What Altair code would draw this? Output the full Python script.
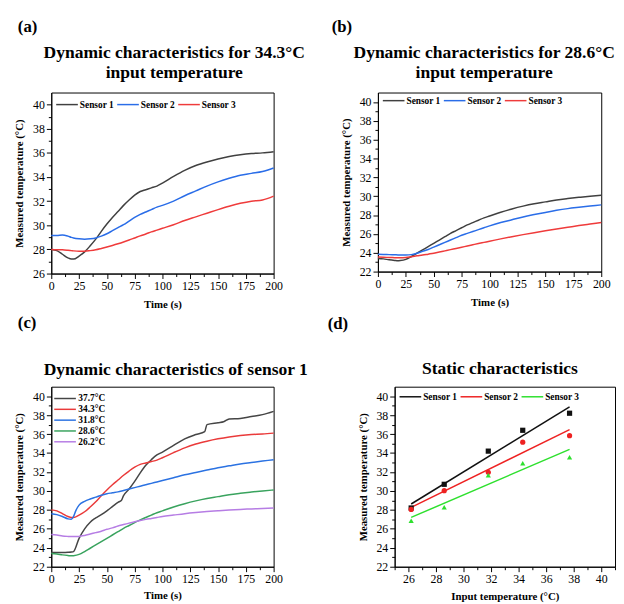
import altair as alt
import pandas as pd

FONT = "Liberation Serif"

# ---------------- data ----------------
PANEL_LABELS = ["(a)", "(b)", "(c)", "(d)"]
TITLE_A = ["Dynamic characteristics for 34.3°C", "input temperature"]
TITLE_B = ["Dynamic characteristics for 28.6°C", "input temperature"]
TITLE_C = ["Dynamic characteristics of sensor 1"]
TITLE_D = ["Static characteristics"]

SENSORS = ["Sensor 1", "Sensor 2", "Sensor 3"]

T_STD = [0, 5, 10, 15, 18, 20, 25, 30, 35, 40, 45, 50, 55, 60, 65, 70, 75, 80,
         85, 90, 95, 100, 110, 120, 130, 140, 150, 160, 170, 180, 190, 200]

# (a) 34.3 °C input
A_S1 = [28.0, 27.9, 27.6, 27.3, 27.2, 27.2, 27.45, 27.8, 28.3, 28.85, 29.5, 30.1,
        30.65, 31.15, 31.65, 32.1, 32.5, 32.8, 32.95, 33.1, 33.25, 33.5, 34.05,
        34.55, 34.95, 35.25, 35.5, 35.7, 35.85, 35.95, 36.0, 36.1]
A_S2 = [29.15, 29.15, 29.2, 29.1, 29.0, 28.95, 28.88, 28.85, 28.88, 28.95, 29.1,
        29.3, 29.55, 29.8, 30.05, 30.35, 30.65, 30.9, 31.1, 31.3, 31.5, 31.65,
        32.0, 32.45, 32.85, 33.25, 33.6, 33.9, 34.15, 34.3, 34.45, 34.75]
A_S3 = [28.0, 27.98, 27.97, 27.93, 27.9, 27.88, 27.85, 27.85, 27.9, 27.97, 28.08,
        28.2, 28.33, 28.47, 28.62, 28.78, 28.95, 29.12, 29.28, 29.45, 29.6, 29.75,
        30.05, 30.4, 30.7, 31.0, 31.3, 31.58, 31.82, 32.0, 32.1, 32.42]

# (b) 28.6 °C input
B_S1 = [23.4, 23.35, 23.25, 23.18, 23.15, 23.17, 23.3, 23.6, 23.95, 24.3, 24.65,
        25.0, 25.35, 25.7, 26.05, 26.35, 26.65, 26.95, 27.2, 27.45, 27.7, 27.9,
        28.3, 28.65, 28.95, 29.2, 29.4, 29.6, 29.75, 29.88, 30.0, 30.1]
B_S2 = [23.85, 23.82, 23.8, 23.78, 23.77, 23.76, 23.76, 23.8, 23.95, 24.15, 24.35,
        24.6, 24.85, 25.1, 25.35, 25.6, 25.85, 26.05, 26.25, 26.45, 26.65, 26.85,
        27.2, 27.5, 27.8, 28.05, 28.28, 28.5, 28.68, 28.82, 28.95, 29.08]
B_S3 = [23.55, 23.52, 23.5, 23.48, 23.47, 23.47, 23.5, 23.58, 23.67, 23.75, 23.85,
        23.95, 24.07, 24.2, 24.33, 24.45, 24.58, 24.72, 24.85, 24.98, 25.1, 25.22,
        25.47, 25.7, 25.92, 26.13, 26.33, 26.52, 26.7, 26.88, 27.05, 27.22]

# (c) sensor 1 at five input temperatures
C_NAMES = ["37.7°C", "34.3°C", "31.8°C", "28.6°C", "26.2°C"]
T_C377 = [0, 5, 10, 15, 18, 20, 25, 30, 35, 38, 40, 45, 50, 55, 60, 63, 65, 70,
          75, 80, 85, 90, 95, 100, 110, 120, 130, 138, 140, 150, 155, 160, 170,
          180, 190, 200]
C_377 = [23.5, 23.5, 23.5, 23.52, 23.55, 23.6, 25.0, 26.0, 26.7, 27.0, 27.15,
         27.5, 27.9, 28.35, 28.8, 29.0, 29.5, 30.2, 31.0, 31.9, 32.7, 33.3, 33.8,
         34.1, 34.8, 35.5, 35.95, 36.25, 37.0, 37.2, 37.3, 37.6, 37.65, 37.85,
         38.05, 38.4]
C_343 = A_S1
T_C318 = [0, 5, 10, 15, 18, 20, 22, 25, 30, 35, 40, 45, 50, 55, 60, 65, 70, 75,
          80, 85, 90, 95, 100, 110, 120, 130, 140, 150, 160, 170, 180, 190, 200]
C_318 = [27.6, 27.5, 27.3, 27.05, 27.0, 27.3, 27.9, 28.5, 28.9, 29.15, 29.35,
         29.55, 29.7, 29.8, 29.9, 30.05, 30.2, 30.35, 30.5, 30.65, 30.8, 30.95,
         31.1, 31.4, 31.7, 31.95, 32.2, 32.45, 32.65, 32.85, 33.0, 33.15, 33.3]
C_286 = B_S1
C_262 = [25.4, 25.35, 25.25, 25.2, 25.18, 25.18, 25.2, 25.3, 25.45, 25.6, 25.75,
         25.95, 26.1, 26.3, 26.45, 26.6, 26.75, 26.88, 27.0, 27.1, 27.2, 27.3,
         27.45, 27.6, 27.72, 27.82, 27.9, 27.98, 28.05, 28.1, 28.15, 28.2]

# (d) static characteristics
D_INPUT = [26.2, 28.6, 31.8, 34.3, 37.7]
D_S1 = [28.2, 30.7, 34.2, 36.4, 38.2]
D_S2 = [28.05, 30.03, 31.97, 35.14, 35.83]
D_S3 = [26.86, 28.28, 31.65, 32.93, 33.55]
D_SHAPES = ["square", "circle", "triangle-up"]

COL_AB = ["#404040", "#2a6de8", "#ef3b3b"]
COL_C = ["#454545", "#ea3a3a", "#2b72e2", "#39a35e", "#b67de4"]
COL_D = ["#111111", "#ee2222", "#2ee02e"]


def long_df(pairs):
    rows = []
    for name, ts, vs in pairs:
        for t, v in zip(ts, vs):
            rows.append({"t": t, "v": v, "series": name})
    return pd.DataFrame(rows)


def y_axis(lo, hi):
    return alt.Axis(
        title="Measured temperature (°C)",
        values=list(range(lo, hi + 1)),
        labelExpr="datum.value % 2 === 0 ? datum.label : ''",
        tickSize={"condition": {"test": "datum.value % 2 === 0", "value": 5}, "value": 3},
        labelOverlap=False, titlePadding=8, labelFlush=False, labelPadding=2,
    )


def x_axis_time(tp):
    return alt.Axis(
        title="Time (s)",
        values=[i * 12.5 for i in range(17)],
        labelExpr="datum.value % 25 === 0 ? datum.label : ''",
        tickSize={"condition": {"test": "datum.value % 25 === 0", "value": 5}, "value": 3},
        labelOverlap=False, titlePadding=tp, labelFlush=False, labelPadding=2,
    )


def legend(x, y, horizontal=True):
    common = dict(
        orient="none", legendX=x, legendY=y, title=None,
        labelFont=FONT, labelFontWeight="bold", labelFontSize=9.5, labelColor="black",
        symbolStrokeWidth=1.5, padding=0, labelLimit=0,
    )
    if horizontal:
        return alt.Legend(direction="horizontal", symbolType="stroke", symbolSize=484,
                          labelOffset=1, columnPadding=0, **common)
    return alt.Legend(direction="vertical", symbolType="M-3.3,0L1.1,0", symbolSize=100,
                      labelOffset=2, rowPadding=0, **common)


def text_mark(label, dx, dy, size, align):
    return alt.Chart(pd.DataFrame({"lab": [label]})).mark_text(
        align=align, baseline="middle", font=FONT, fontSize=size, fontWeight="bold", color="black",
    ).encode(text="lab:N", x=alt.value(dx), y=alt.value(dy))


def title_marks(lines, cx, y0):
    return [text_mark(line, cx, y0 + 20 * i, 17.8, "center") for i, line in enumerate(lines)]


def dynamic_panel(df, names, colors, ylo, yhi, w, h, ttl, tx, ty, lab, ldx, ldy, legx, legy, horiz, tp):
    lines = alt.Chart(df).mark_line(strokeWidth=1.5, interpolate="monotone").encode(
        x=alt.X("t:Q", scale=alt.Scale(domain=[0, 200], nice=False), axis=x_axis_time(tp)),
        y=alt.Y("v:Q", scale=alt.Scale(domain=[ylo, 41], nice=False, zero=False), axis=y_axis(ylo, yhi)),
        color=alt.Color("series:N", scale=alt.Scale(domain=names, range=colors),
                        legend=legend(legx, legy, horiz)),
        detail="series:N",
    )
    return alt.layer(
        lines, *title_marks(ttl, tx, ty), text_mark(lab, ldx, ldy, 17, "left"),
    ).properties(width=w, height=h)


df_a = long_df([(SENSORS[0], T_STD, A_S1), (SENSORS[1], T_STD, A_S2), (SENSORS[2], T_STD, A_S3)])
df_b = long_df([(SENSORS[0], T_STD, B_S1), (SENSORS[1], T_STD, B_S2), (SENSORS[2], T_STD, B_S3)])
df_c = long_df([(C_NAMES[0], T_C377, C_377), (C_NAMES[1], T_STD, C_343), (C_NAMES[2], T_C318, C_318),
                (C_NAMES[3], T_STD, C_286), (C_NAMES[4], T_STD, C_262)])

pa = dynamic_panel(df_a, SENSORS, COL_AB, 26, 40, 226, 184, TITLE_A, 125, -40,
                   PANEL_LABELS[0], -34, -67, 4, 0, True, 7)
pb = dynamic_panel(df_b, SENSORS, COL_AB, 22, 40, 227, 182, TITLE_B, 108, -40,
                   PANEL_LABELS[1], -47, -67, 4, -4, True, 7)
pc = dynamic_panel(df_c, C_NAMES, COL_C, 22, 40, 226, 183, TITLE_C, 126.5, -17,
                   PANEL_LABELS[2], -34, -65, 13.5, 6, False, 5)

# (d)
rows_d = []
for name, vals in zip(SENSORS, [D_S1, D_S2, D_S3]):
    for xv, yv in zip(D_INPUT, vals):
        rows_d.append({"x": xv, "y": yv, "sensor": name})
df_d = pd.DataFrame(rows_d)

xd = alt.X("x:Q", scale=alt.Scale(domain=[25, 41], nice=False, zero=False),
           axis=alt.Axis(title="Input temperature (°C)", values=list(range(25, 42)),
                         labelExpr="datum.value % 2 === 0 ? datum.label : ''",
                         tickSize={"condition": {"test": "datum.value % 2 === 0", "value": 5}, "value": 3},
                         labelOverlap=False, titlePadding=6, labelFlush=False, labelPadding=2))
yd = alt.Y("y:Q", scale=alt.Scale(domain=[22, 41], nice=False, zero=False), axis=y_axis(22, 40))

fit = alt.Chart(df_d).transform_regression("x", "y", groupby=["sensor"]).mark_line(strokeWidth=1.5).encode(
    x=xd, y=yd,
    color=alt.Color("sensor:N", scale=alt.Scale(domain=SENSORS, range=COL_D), legend=legend(4, -2, True)),
)
pts = [
    alt.Chart(df_d).transform_filter(alt.datum.sensor == name).mark_point(
        filled=True, size=28, opacity=1, shape=shp, color=col
    ).encode(x=xd, y=yd)
    for name, shp, col in zip(SENSORS, D_SHAPES, COL_D)
]
pd_ = alt.layer(
    fit, *pts, *title_marks(TITLE_D, 107, -18),
    text_mark(PANEL_LABELS[3], -68, -64, 17, "left"),
).properties(width=224, height=183)

row1 = alt.hconcat(pa, pb, spacing=25).resolve_scale(color="independent")
row2 = alt.hconcat(pc, pd_, spacing=18).resolve_scale(color="independent")

chart = alt.vconcat(row1, row2, spacing=3).resolve_scale(color="independent").properties(
    padding={"left": 5, "top": 4, "right": 0, "bottom": 0}
).configure_view(stroke="black", strokeWidth=1).configure_axis(
    grid=False, domainColor="black", tickColor="black", labelColor="black", titleColor="black",
    labelFont=FONT, labelFontSize=12, titleFont=FONT, titleFontSize=11, titleFontWeight="bold",
    domainWidth=1, tickWidth=1,
)

chart.save("out.html", embed_options={"renderer": "svg", "actions": False})
